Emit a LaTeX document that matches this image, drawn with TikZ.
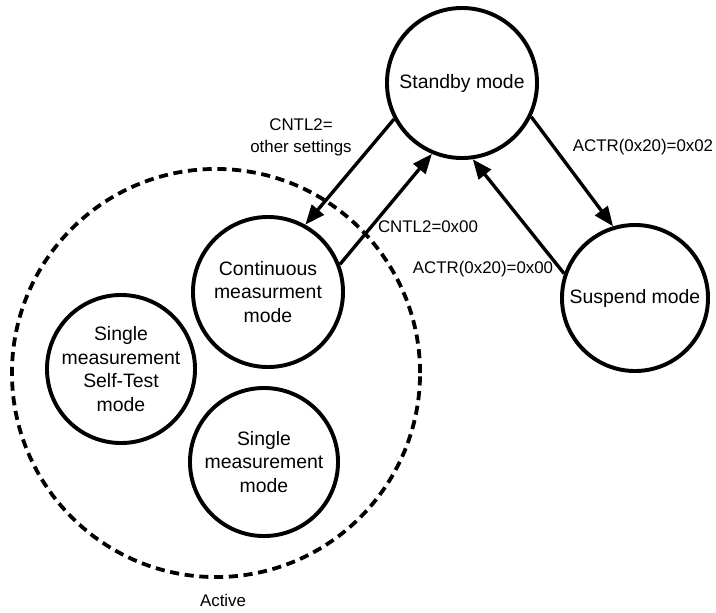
\documentclass[tikz,border=0pt]{standalone}
\usepackage{fontspec}
\setmainfont{Liberation Sans}
\usetikzlibrary{arrows.meta, positioning}

\begin{document}
\begin{tikzpicture}[
    x=0.025cm, y=-0.025cm,
    state/.style={circle, draw, line width=2.8pt, inner sep=0pt, minimum size=3.7cm, align=center, font=\fontsize{13.8}{16.8}\selectfont},
    group/.style={circle, draw, line width=2.7pt, dash pattern=on 6.5pt off 4pt, inner sep=0pt, minimum size=10.2cm},
    cond/.style={align=center, font=\fontsize{12}{15.6}\selectfont},
    arr/.style={-{Triangle[length=14pt, width=11pt]}, line width=2.4pt}
]
    \useasboundingbox (0,0) rectangle (716,612);

    \node[group] (active) at (216,373) {};
    \node[cond, below=7pt of active, xshift=5] (activelbl) {Active};

    \node[state, minimum size=3.75cm] (standby) at (462,83) {Standby mode};
    \node[state, minimum size=3.65cm] (suspend) at (635,298) {Suspend mode};
    \node[state, minimum size=3.75cm] (cont) at (268,292) {Continuous\\measurment\\mode};
    \node[state] (selftest) at (121,369) {Single\\measurement\\Self-Test\\mode};
    \node[state] (single) at (264,462) {Single\\measurement\\mode};

    \node[cond] (cntlother) at (301,137) {CNTL2=\\other settings};
    \node[cond] (cntlzero) at (428,227) {CNTL2=0x00};
    \node[cond] (actrzero) at (483,269) {ACTR(0x20)=0x00};
    \node[cond] (actrtwo) at (643,147) {ACTR(0x20)=0x02};

    \draw[arr] (standby.208) -- (cont.61);
    \draw[arr] (cont.21) -- (standby.247);
    \draw[arr] (standby.334) -- (suspend.107);
    \draw[arr] (suspend.161) -- (standby.278);
\end{tikzpicture}
\end{document}
